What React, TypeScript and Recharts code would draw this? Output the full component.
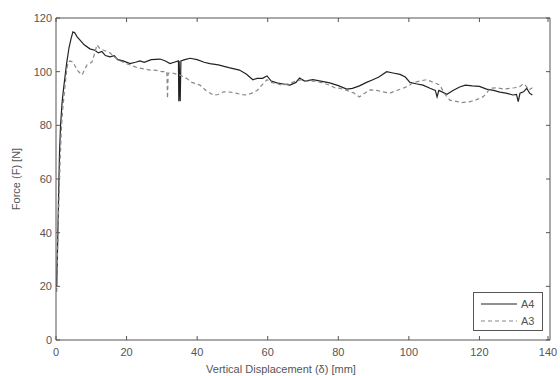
import { LineChart, Line, XAxis, YAxis, Legend, Label } from "recharts";

// A4 curve (solid) - displacement [mm] / force [N]
const a4X = [
  0.2, 0.4, 0.6, 0.8, 1.0, 1.3, 1.7, 2.0, 2.5, 3.0, 3.7, 4.3, 4.8, 5.3, 6, 7, 8, 9.6, 11, 12, 13, 14,
  15.3, 16.5, 17.5, 19, 21, 22.5, 23.8, 25, 27, 29.5, 31, 32.3, 33.5, 34.7, 34.8, 34.9, 35.2, 35.4,
  36.5, 38, 40, 42, 43.6, 46, 49, 52, 54, 55.8, 57, 58.5, 59.8, 61, 62.6, 64, 66.3, 68, 69, 70.5,
  72.8, 75, 77.6, 80, 82.4, 84, 86, 88, 89.8, 91.5, 93.7, 95.5, 97.5, 99, 100.3, 102, 104, 106,
  107.5, 108, 108.5, 110.8, 112.5, 114.4, 116, 118, 120, 122, 124, 125.8, 127.5, 129.5, 130.5, 131,
  131.5, 132.5, 133.4, 134.2, 135,
];
const a4Y = [
  20, 32, 45, 58, 70, 80, 88, 92, 97.6, 103, 109, 112.5, 114.8, 114.5, 113, 111.5, 110, 108.5, 108,
  107, 107.5, 106, 105.5, 106, 104.5, 104, 103, 103.5, 104, 103.5, 104.5, 104.7, 104, 103, 103.5, 104,
  89, 104, 89, 104, 104.5, 105, 104.5, 103.5, 103, 102.5, 101.5, 100.6, 99, 97, 97.5, 97.5, 98.4,
  96.5, 95.8, 95.5, 95, 96, 97.6, 96.5, 97, 96.5, 95.8, 94.8, 93.5, 93.8, 94.7, 96, 97, 98, 100,
  99.5, 99, 98, 96, 95.5, 95, 93.8, 93, 90.6, 93, 91.6, 93, 94.3, 95, 94.7, 94.5, 93.5, 93, 92.4, 92,
  91.3, 91.5, 88.8, 92, 92.5, 93.8, 92, 91.3,
];

// A3 curve (dashed)
const a3X = [
  0.2, 0.4, 0.6, 0.9, 1.2, 1.5, 1.9, 2.5, 3.0, 3.4, 4.0, 4.8, 6, 6.8, 7.4, 8.2, 8.8, 10.2, 11, 11.6,
  12.5, 13.5, 15.3, 17, 19, 21, 23, 25, 26.6, 28.5, 30, 31.4, 31.6, 31.8, 33, 35, 37, 38.5, 40.8,
  42.5, 44.5, 46, 47.5, 49.3, 51, 52.5, 54, 55.5, 57, 58, 59, 59.8, 61, 62.5, 64, 66, 68, 69.5, 71,
  73, 75, 77.5, 79, 80.5, 82.5, 84.5, 86, 87.5, 89, 91, 92.5, 94.6, 96.5, 98.3, 100, 101, 103, 105,
  107, 108.8, 110, 111.6, 113, 115, 117.3, 119, 121, 122, 123, 125, 127, 128.6, 130, 131.5, 132.5,
  133, 134, 135,
];
const a3Y = [
  18, 30, 42, 55, 68, 78, 86, 94, 100, 103.6, 104, 103.6, 100.6, 99.5, 98.8, 101, 102.5, 103.6, 107,
  110, 108.5, 108, 107, 105, 103.5, 102.5, 101.5, 101, 100.6, 100.5, 100, 100, 90, 99.5, 99.5, 98.8,
  97.5, 96, 95, 93, 91.3, 91.5, 92.5, 92.4, 92, 91.5, 91.3, 92, 93, 94.5, 96, 97, 96, 95.5, 95, 95.5,
  96.5, 97, 96.5, 96.5, 96, 95, 94, 93.8, 93, 92, 90.6, 92, 93.2, 93, 92.5, 92, 93, 93.8, 94.8, 95.8,
  96.5, 97, 96, 95, 92, 89.4, 89, 88.5, 88.8, 89.5, 90.6, 92, 93.8, 94, 93.5, 93.8, 94, 94.5, 95.5,
  95, 93.2, 94,
];

const xTicks = [0, 20, 40, 60, 80, 100, 120, 140];
const yTicks = [0, 20, 40, 60, 80, 100, 120];

const a4Data = a4X.map((x, i) => ({ x, y: a4Y[i] }));
const a3Data = a3X.map((x, i) => ({ x, y: a3Y[i] }));

const AXIS = "#555";
const TEXT = "#555";
const FONT = "'Liberation Sans', Arial, sans-serif";

// inward ticks, MATLAB style
const BottomTick = (p: any) => (
  <g>
    <line x1={p.x} y1={p.y} x2={p.x} y2={p.y - 4} stroke={AXIS} />
    <text x={p.x} y={p.y + 16} textAnchor="middle" fontSize={11} fill={TEXT} fontFamily={FONT}>
      {p.payload.value}
    </text>
  </g>
);
const TopTick = (p: any) => <line x1={p.x} y1={p.y} x2={p.x} y2={p.y + 4} stroke={AXIS} />;
const LeftTick = (p: any) => (
  <g>
    <line x1={p.x} y1={p.y} x2={p.x + 4} y2={p.y} stroke={AXIS} />
    <text x={p.x - 4} y={p.y + 4} textAnchor="end" fontSize={11} fill={TEXT} fontFamily={FONT}>
      {p.payload.value}
    </text>
  </g>
);
const RightTick = (p: any) => <line x1={p.x} y1={p.y} x2={p.x - 4} y2={p.y} stroke={AXIS} />;

const LegendBox = () => (
  <div
    style={{
      border: `1px solid ${AXIS}`,
      background: "#fff",
      width: 68,
      height: 37,
      fontFamily: FONT,
      fontSize: 11,
      color: TEXT,
    }}
  >
    <svg width={68} height={37}>
      <line x1={7} y1={11} x2={43} y2={11} stroke="#222" strokeWidth={1.2} />
      <text x={47} y={15} fontSize={11} fill={TEXT} fontFamily={FONT}>A4</text>
      <line x1={7} y1={28} x2={43} y2={28} stroke="#888" strokeWidth={1.2} strokeDasharray="4 3" />
      <text x={47} y={32} fontSize={11} fill={TEXT} fontFamily={FONT}>A3</text>
    </svg>
  </div>
);

export default function App() {
  return (
    <div style={{ position: "absolute", left: 0, top: 0, width: 560, height: 376, background: "#fff" }}>
      <LineChart width={560} height={376} margin={{ top: 17, right: 9, bottom: 0, left: 0 }}>
        <XAxis
          dataKey="x"
          type="number"
          domain={[0, 140]}
          ticks={xTicks}
          allowDataOverflow
          height={36}
          tickSize={0}
          tickMargin={0}
          tick={<BottomTick />}
          axisLine={{ stroke: AXIS }}
        >
          <Label
            content={() => (
              <text x={281} y={373} textAnchor="middle" fontSize={11} fill={TEXT} fontFamily={FONT}>
                Vertical Displacement (δ) [mm]
              </text>
            )}
          />
        </XAxis>
        <XAxis
          xAxisId="top"
          orientation="top"
          dataKey="x"
          type="number"
          domain={[0, 140]}
          ticks={xTicks}
          allowDataOverflow
          height={1}
          tickSize={0}
          tickMargin={0}
          tick={<TopTick />}
          axisLine={{ stroke: AXIS }}
        />
        <YAxis
          type="number"
          domain={[0, 120]}
          ticks={yTicks}
          allowDataOverflow
          width={56}
          tickSize={0}
          tickMargin={0}
          tick={<LeftTick />}
          axisLine={{ stroke: AXIS }}
        >
          <Label
            content={() => (
              <text
                x={20}
                y={179}
                transform="rotate(-90, 20, 179)"
                textAnchor="middle"
                fontSize={11}
                fill={TEXT}
                fontFamily={FONT}
              >
                Force (F) [N]
              </text>
            )}
          />
        </YAxis>
        <YAxis
          yAxisId="right"
          orientation="right"
          type="number"
          domain={[0, 120]}
          ticks={yTicks}
          allowDataOverflow
          width={1}
          tickSize={0}
          tickMargin={0}
          tick={<RightTick />}
          axisLine={{ stroke: AXIS }}
        />
        <Legend
          layout="horizontal"
          verticalAlign="middle"
          align="center"
          wrapperStyle={{ left: 473, top: 292, width: 70, height: 39 }}
          content={<LegendBox />}
        />
        <Line
          name="A4"
          data={a4Data}
          dataKey="y"
          type="linear"
          stroke="#222"
          strokeWidth={1.2}
          dot={false}
          isAnimationActive={false}
        />
        <Line
          name="A3"
          data={a3Data}
          dataKey="y"
          type="linear"
          stroke="#888"
          strokeWidth={1.2}
          strokeDasharray="4 3"
          dot={false}
          isAnimationActive={false}
        />
      </LineChart>
    </div>
  );
}
